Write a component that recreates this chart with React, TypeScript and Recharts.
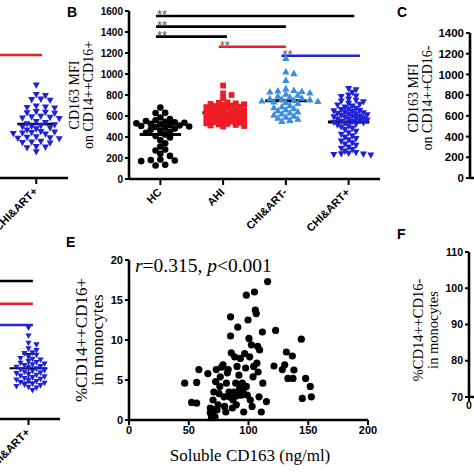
import React from 'react';
import { ScatterChart, ComposedChart, Scatter, XAxis, YAxis, ReferenceLine, ReferenceDot } from 'recharts';

// ---------- data ----------
const groupNames = ['HC', 'AHI', 'CHI&ART-', 'CHI&ART+'];

const hcValues = [680, 630, 628, 585, 570, 560, 552, 545, 540, 535, 530, 525, 520, 515, 510, 505, 500, 495, 488, 480, 470, 460, 450, 440, 425, 410, 395, 370, 340, 310, 280, 272, 240, 220, 185, 180, 176, 170, 135, 128];
const ahiValues = [890, 815, 800, 770, 730, 725, 720, 715, 712, 705, 700, 695, 690, 685, 680, 672, 665, 660, 655, 650, 645, 640, 635, 630, 625, 620, 615, 610, 605, 600, 595, 590, 585, 580, 575, 570, 565, 560, 555, 550, 545, 540, 535, 530, 525, 520, 515, 510, 505, 500];
const chiArtNegValues = [1150, 1020, 1005, 940, 860, 845, 840, 835, 830, 820, 810, 800, 790, 780, 770, 765, 760, 755, 750, 745, 740, 735, 730, 720, 700, 690, 680, 670, 660, 650, 640, 630, 620, 610, 600, 590, 580, 570, 560, 550];
const chiArtPosValues = [860, 850, 825, 800, 790, 785, 760, 750, 742, 735, 720, 712, 705, 695, 685, 672, 665, 660, 652, 648, 642, 636, 630, 626, 620, 615, 610, 606, 600, 596, 592, 586, 580, 575, 570, 566, 560, 556, 550, 546, 540, 536, 530, 522, 515, 505, 495, 482, 470, 455, 440, 425, 410, 398, 385, 372, 360, 345, 332, 320, 305, 292, 280, 265, 252, 245, 240, 236, 232, 228];
const bTicks = [0, 200, 400, 600, 800, 1000, 1200, 1400, 1600];
const sigFrom = [1, 1, 1, 2, 3];
const sigTo = [4, 3, 2, 3, 4];
const sigLevels = [1552, 1451, 1356, 1260, 1174];
const sigColors = ['#000000', '#000000', '#000000', '#e8202a', '#2424d8'];

// panel A (partial, left edge): CHI&ART+ group
const panelAValues = [891, 800, 790, 755, 750, 745, 690, 680, 675, 670, 635, 630, 625, 620, 590, 585, 580, 575, 570, 540, 530, 520, 510, 500, 495, 490, 480, 470, 460, 445, 440, 435, 430, 425, 420, 395, 390, 385, 380, 375, 350, 345, 340, 335, 300, 295, 290, 250];
const panelALineLevel = 1178;

// panel D (partial, left edge): CHI&ART+ group
const panelDValues = [11.4, 10.4, 9.5, 9.3, 8.8, 8.6, 8.3, 8.2, 8.0, 7.8, 7.6, 7.5, 7.4, 7.2, 7.1, 7.0, 6.9, 6.8, 6.7, 6.6, 6.5, 6.4, 6.3, 6.2, 6.1, 6.0, 5.9, 5.8, 5.7, 5.6, 5.5, 5.4, 5.3, 5.2, 5.1, 5.0, 4.9, 4.8, 4.7, 4.6, 4.5, 4.4, 4.3, 4.2, 4.1, 4.0, 3.9, 3.6];
const panelDLineLevels = [17.25, 14.4, 11.75];
const panelDLineColors = ['#000000', '#e8202a', '#2424d8'];

// panel C
const cTicks = [0, 200, 400, 600, 800, 1000, 1200, 1400];

// panel E
const solubleCD163 = [46.6, 52.4, 56.6, 56.6, 58.5, 66, 68, 68, 69.7, 70.3, 71, 72.5, 73, 73.7, 74.5, 75.3, 76, 76.4, 77.5, 78.7, 79.5, 80, 81, 81.5, 82.3, 83, 83.7, 84.2, 85, 85, 85.6, 86.5, 87, 88, 88.4, 89.3, 89.8, 90.4, 91, 91.2, 92, 92.6, 93.2, 94, 94.8, 96, 96.8, 97.6, 98.2, 99, 99.6, 98.2, 100.4, 101, 101.5, 102.4, 103, 103.8, 104.3, 105, 105.7, 106.5, 107, 107.7, 108, 108.8, 109.3, 110.7, 111.6, 112, 115, 116, 122.7, 121.3, 128.3, 130.3, 131.7, 133, 136.7, 137.2, 138, 144.2, 147.8, 145, 151.7, 152.6, 69, 72, 70.5, 90, 95.5, 86];
const pctCD14CD16 = [4.6, 2.2, 2.1, 4.7, 6.3, 5.8, 1.5, 0.9, 0.6, 2.5, 3.5, 4.8, 6.3, 1.25, 1.9, 3.3, 4.2, 5.4, 6.6, 6.9, 2.9, 1.7, 1.0, 4.6, 5.9, 6.3, 3.5, 2.9, 10.5, 12.9, 8.4, 1.5, 2.5, 3.5, 7.9, 4.6, 1.9, 6.7, 11.6, 3.5, 5.6, 4.0, 7.7, 3.1, 4.6, 1.0, 8.3, 6.5, 4.2, 3.1, 12.5, 15.6, 10.2, 7.9, 2.5, 9.4, 1.7, 5.4, 6.7, 16.0, 13.75, 13.3, 7.1, 9.2, 6.0, 2.9, 8.75, 1.0, 11.0, 4.6, 2.3, 17.3, 11.2, 6.75, 6.3, 6.9, 8.5, 5.2, 8.0, 5.2, 6.25, 10.1, 5.2, 2.7, 4.2, 2.9, 0.3, 0.4, 1.3, 3.0, 3.7, 3.2];
const eXTicks = [0, 50, 100, 150, 200];
const eYTicks = [0, 5, 10, 15, 20];

// panel F
const fXTicks = [0, 50, 100, 150, 200];
const fYTicks = [70, 80, 90, 100, 110];

// ---------- helpers ----------
const SANS = 'Liberation Sans, Arial, sans-serif';
const SERIF = 'Liberation Serif, Times New Roman, serif';
const RED = '#ee1c24';
const LIGHTBLUE = '#3a8ee0';
const DARKBLUE = '#2020d6';

const mean = (v: number[]) => v.reduce((a, b) => a + b, 0) / v.length;
const sd = (v: number[]) => {
  const m = mean(v);
  return Math.sqrt(v.reduce((a, b) => a + (b - m) * (b - m), 0) / (v.length - 1));
};

// deterministic beeswarm layout (value-driven)
function swarm(values: number[], center: number, pxPerY: number, pxPerX: number, minDist: number, step: number) {
  const sorted = [...values].sort((a, b) => b - a);
  const placed: { dx: number; py: number }[] = [];
  return sorted.map((v) => {
    const py = v * pxPerY;
    let chosen = 0;
    for (let k = 0; k < 60; k++) {
      const n = Math.ceil(k / 2);
      const cand = k === 0 ? 0 : k % 2 === 1 ? n * step : -n * step;
      if (placed.every((p) => (p.dx - cand) ** 2 + (p.py - py) ** 2 >= minDist * minDist)) {
        chosen = cand;
        break;
      }
    }
    placed.push({ dx: chosen, py });
    return { x: center + chosen / pxPerX, y: v };
  });
}

const circleShape = (p: any) => <circle cx={p.cx} cy={p.cy} r={3.3} fill="#000" />;
const squareShape = (p: any) => <rect x={p.cx - 2.9} y={p.cy - 2.9} width={5.8} height={5.8} fill={RED} />;
const triUpShape = (p: any) => (
  <polygon points={`${p.cx},${p.cy - 3.9} ${p.cx + 3.7},${p.cy + 2.7} ${p.cx - 3.7},${p.cy + 2.7}`} fill={LIGHTBLUE} />
);
const triDownShape = (p: any) => (
  <polygon points={`${p.cx - 3.5},${p.cy - 2.6} ${p.cx + 3.5},${p.cy - 2.6} ${p.cx},${p.cy + 3.7}`} fill={DARKBLUE} />
);
const triDownSmall = (p: any) => (
  <polygon points={`${p.cx - 3.1},${p.cy - 2.3} ${p.cx + 3.1},${p.cy - 2.3} ${p.cx},${p.cy + 3.3}`} fill={DARKBLUE} />
);
const eDot = (p: any) => <circle cx={p.cx} cy={p.cy} r={3.6} fill="#000" />;

const CatTick = (props: any) => {
  const { x, y, payload } = props;
  const name = groupNames[Math.round(payload.value) - 1];
  const ax = x + 2;
  const ay = y + 6;
  return (
    <text x={ax} y={ay} transform={`rotate(-45 ${ax} ${ay})`} textAnchor="end" fontSize={11} fontWeight={700} fontFamily={SANS} fill="#000">
      {name}
    </text>
  );
};

const axisLineStyle = { stroke: '#000', strokeWidth: 2.6 };
const tickLineStyle = { stroke: '#000', strokeWidth: 2 };
const numTick = (size: number) => ({ fontSize: size, fontWeight: 700, fill: '#000', fontFamily: SANS });

const starShape = (p: any) => (
  <text x={p.cx + 1} y={p.cy + 3.4} fontSize={13} fontFamily={SANS} fill="#555">**</text>
);

// ---------- data prep ----------
const bGroups = [hcValues, ahiValues, chiArtNegValues, chiArtPosValues];
const bPxY = 168 / 1600;
const bPxX = 62.75;
const hcPts = swarm(hcValues, 1, bPxY, bPxX, 5.4, 4.8);
const ahiPts = swarm(ahiValues, 2, bPxY, bPxX, 4.6, 4.2);
const negPts = swarm(chiArtNegValues, 3, bPxY, bPxX, 4.8, 4.0);
const posPts = swarm(chiArtPosValues, 4, bPxY, bPxX, 4.2, 3.7);
const aPts = swarm(panelAValues, 4, bPxY, 63.5, 5.2, 4.6);
const dPts = swarm(panelDValues, 4, 8, 63, 4.4, 4);
const ePts = solubleCD163.map((x, i) => ({ x, y: pctCD14CD16[i] }));
const cRows = groupNames.map((name) => ({ name }));
const fRows = fXTicks.map((x) => ({ x }));
const sigStartPad = -0.07;
const sigEndPad = [0.09, 0.0, 0.06, 0.0, 0.18];

export default function App() {
  return (
    <div style={{ position: 'fixed', left: 0, top: 0, width: 474, height: 474, overflow: 'hidden', background: '#fff' }}>
      {/* Panel A (partial) */}
      <div style={{ position: 'absolute', left: -256, top: 0 }}>
        <ScatterChart width={326} height={259} margin={{ top: 11, right: 2, bottom: 21, left: 70 }}>
          <XAxis type="number" dataKey="x" domain={[0.5, 4.5]} ticks={[1, 2, 3, 4]} interval={0} height={60} tick={<CatTick />} axisLine={axisLineStyle} tickLine={tickLineStyle} tickSize={6} tickMargin={2} />
          <YAxis type="number" dataKey="y" domain={[0, 1600]} hide />
          <Scatter data={aPts} shape={triDownShape} isAnimationActive={false} />
          <ReferenceLine segment={[{ x: 2, y: panelALineLevel }, { x: 4.09, y: panelALineLevel }]} stroke={RED} strokeWidth={2.6} />
          <ReferenceLine segment={[{ x: 3.7, y: mean(panelAValues) }, { x: 4.3, y: mean(panelAValues) }]} stroke="#000" strokeWidth={2.5} />
        </ScatterChart>
      </div>

      {/* Panel B */}
      <div style={{ position: 'absolute', left: 60, top: 0 }}>
        <ScatterChart width={330} height={260} margin={{ top: 11, right: 10, bottom: 21, left: 0 }}>
          <XAxis type="number" dataKey="x" domain={[0.5, 4.5]} ticks={[1, 2, 3, 4]} interval={0} height={60} tick={<CatTick />} axisLine={axisLineStyle} tickLine={tickLineStyle} tickSize={6} tickMargin={2} />
          <YAxis type="number" dataKey="y" domain={[0, 1600]} ticks={bTicks} interval={0} width={69} tick={numTick(10)} axisLine={axisLineStyle} tickLine={tickLineStyle} tickSize={4} tickMargin={2} />
          <Scatter data={hcPts} shape={circleShape} isAnimationActive={false} />
          <Scatter data={ahiPts} shape={squareShape} isAnimationActive={false} />
          <Scatter data={negPts} shape={triUpShape} isAnimationActive={false} />
          <Scatter data={posPts} shape={triDownShape} isAnimationActive={false} />
          {bGroups.map((g, i) => (
            <ReferenceLine key={'m' + i} segment={[{ x: i + 1 - 0.33, y: mean(g) }, { x: i + 1 + 0.33, y: mean(g) }]} stroke="#000" strokeWidth={3} />
          ))}
          {sigLevels.map((lv, i) => (
            <ReferenceLine key={'s' + i} segment={[{ x: sigFrom[i] + sigStartPad, y: lv }, { x: sigTo[i] + sigEndPad[i], y: lv }]} stroke={sigColors[i]} strokeWidth={2.6} />
          ))}
          {sigLevels.map((lv, i) => (
            <ReferenceDot key={'d' + i} x={sigFrom[i] + sigStartPad} y={lv} r={0} shape={starShape} />
          ))}
        </ScatterChart>
      </div>

      {/* Panel C (partial) */}
      <div style={{ position: 'absolute', left: 380, top: 0 }}>
        <ComposedChart width={130} height={220} data={cRows} margin={{ top: 33, right: 0, bottom: 12, left: 0 }}>
          <XAxis dataKey="name" type="category" height={30} tick={false} tickLine={false} axisLine={axisLineStyle} />
          <YAxis type="number" domain={[0, 1400]} allowDataOverflow ticks={cTicks} interval={0} width={90} tick={numTick(11.5)} axisLine={axisLineStyle} tickLine={tickLineStyle} tickSize={4} tickMargin={2} />
        </ComposedChart>
      </div>

      {/* Panel D (partial) */}
      <div style={{ position: 'absolute', left: -262, top: 240 }}>
        <ScatterChart width={324} height={229} margin={{ top: 19, right: 2, bottom: 10, left: 70 }}>
          <XAxis type="number" dataKey="x" domain={[0.5, 4.5]} ticks={[1, 2, 3, 4]} interval={0} height={40} tick={<CatTick />} axisLine={axisLineStyle} tickLine={tickLineStyle} tickSize={6} tickMargin={2} />
          <YAxis type="number" dataKey="y" domain={[0, 20]} hide />
          <Scatter data={dPts} shape={triDownSmall} isAnimationActive={false} />
          {panelDLineLevels.map((lv, i) => (
            <ReferenceLine key={'dl' + i} segment={[{ x: i + 1, y: lv }, { x: 4.07, y: lv }]} stroke={panelDLineColors[i]} strokeWidth={2.6} />
          ))}
          <ReferenceLine segment={[{ x: 3.7, y: mean(panelDValues) }, { x: 4.3, y: mean(panelDValues) }]} stroke="#000" strokeWidth={2} />
          <ReferenceLine segment={[{ x: 4, y: mean(panelDValues) - sd(panelDValues) }, { x: 4, y: mean(panelDValues) + sd(panelDValues) }]} stroke="#000" strokeWidth={1.6} />
          <ReferenceLine segment={[{ x: 3.9, y: mean(panelDValues) + sd(panelDValues) }, { x: 4.1, y: mean(panelDValues) + sd(panelDValues) }]} stroke="#000" strokeWidth={1.6} />
          <ReferenceLine segment={[{ x: 3.9, y: mean(panelDValues) - sd(panelDValues) }, { x: 4.1, y: mean(panelDValues) - sd(panelDValues) }]} stroke="#000" strokeWidth={1.6} />
        </ScatterChart>
      </div>

      {/* Panel E */}
      <div style={{ position: 'absolute', left: 60, top: 240 }}>
        <ScatterChart width={318} height={234} margin={{ top: 20, right: 10, bottom: 14, left: 0 }}>
          <XAxis type="number" dataKey="x" domain={[0, 200]} ticks={eXTicks} interval={0} height={40} tick={numTick(11)} axisLine={axisLineStyle} tickLine={tickLineStyle} tickSize={5} tickMargin={1} />
          <YAxis type="number" dataKey="y" domain={[0, 20]} ticks={eYTicks} interval={0} width={69} tick={numTick(11)} axisLine={axisLineStyle} tickLine={tickLineStyle} tickSize={4} tickMargin={2} />
          <Scatter data={ePts} shape={eDot} isAnimationActive={false} />
        </ScatterChart>
      </div>

      {/* Panel F (partial) */}
      <div style={{ position: 'absolute', left: 380, top: 220 }}>
        <ComposedChart width={330} height={217} data={fRows} margin={{ top: 32, right: 0, bottom: 10, left: 0 }}>
          <XAxis dataKey="x" type="number" domain={[0, 200]} allowDataOverflow ticks={fXTicks} interval={0} height={30} tick={numTick(10.5)} axisLine={axisLineStyle} tickLine={tickLineStyle} tickSize={4} tickMargin={1} />
          <YAxis type="number" domain={[70, 110]} allowDataOverflow ticks={fYTicks} interval={0} width={89} tick={numTick(10.5)} axisLine={axisLineStyle} tickLine={tickLineStyle} tickSize={4} tickMargin={2} />
        </ComposedChart>
      </div>

      {/* Titles and annotations */}
      <svg width={474} height={474} style={{ position: 'absolute', left: 0, top: 0, pointerEvents: 'none' }}>
        <g fontFamily={SANS} fontWeight={700} fontSize={14} fill="#000">
          <text x={67} y={17}>B</text>
          <text x={397} y={17}>C</text>
          <text x={66} y={247}>E</text>
          <text x={397} y={239}>F</text>
        </g>
        <g fontFamily={SERIF} fill="#000" textAnchor="middle" dominantBaseline="central">
          <text x={74} y={95} fontSize={14} transform="rotate(-90 74 95)">CD163 MFI</text>
          <text x={88} y={95} fontSize={14} transform="rotate(-90 88 95)">on CD14++CD16+</text>
          <text x={413} y={98} fontSize={14} transform="rotate(-90 413 98)">CD163 MFI</text>
          <text x={427} y={98} fontSize={14} transform="rotate(-90 427 98)">on CD14++CD16-</text>
          <text x={81} y={340} fontSize={17} transform="rotate(-90 81 340)">%CD14++CD16+</text>
          <text x={97} y={340} fontSize={17} transform="rotate(-90 97 340)">in monocytes</text>
          <text x={418} y={330} fontSize={14.5} transform="rotate(-90 418 330)">%CD14++CD16-</text>
          <text x={433} y={330} fontSize={14.5} transform="rotate(-90 433 330)">in monocytes</text>
        </g>
        <text x={250} y={461} fontFamily={SERIF} fontSize={17} textAnchor="middle" fill="#000">Soluble CD163 (ng/ml)</text>
        <text x={135} y={272} fontFamily={SERIF} fontSize={19.5} fill="#000">
          <tspan fontStyle="italic">r</tspan>=0.315, <tspan fontStyle="italic">p</tspan>&lt;0.001
        </text>
      </svg>
    </div>
  );
}
